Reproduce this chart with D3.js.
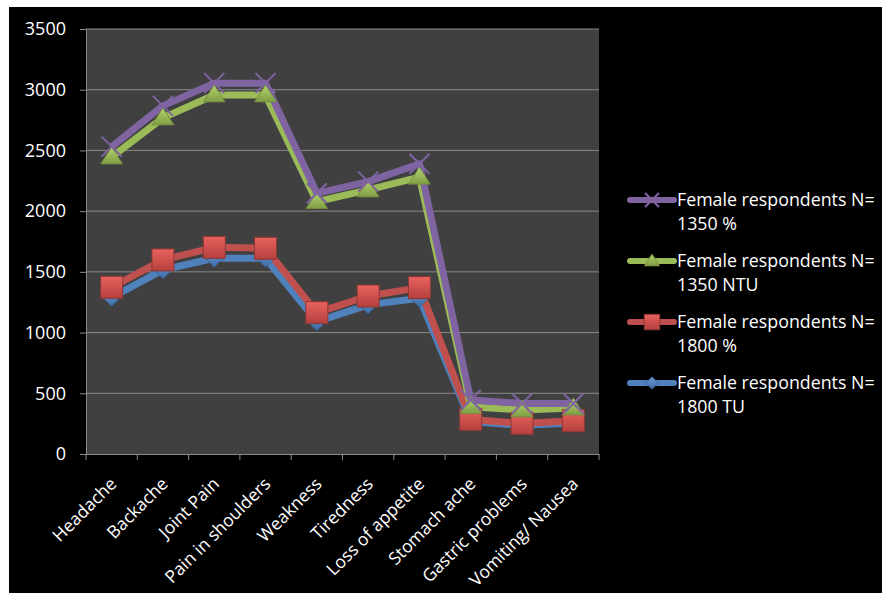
<!DOCTYPE html>
<html>
<head>
<meta charset="utf-8">
<script src="https://cdn.jsdelivr.net/npm/d3@7"></script>
<style>
  body { margin: 0; background: #fff; }
  text { font-family: "Open Sans", sans-serif; fill: #fff; }
</style>
</head>
<body>
<div id="vis"></div>
<script>
const categories = ["Headache", "Backache", "Joint Pain", "Pain in shoulders", "Weakness",
  "Tiredness", "Loss of appetite", "Stomach ache", "Gastric problems", "Vomiting/ Nausea"];

// raw series values (the chart stacks them)
const tu1800 = [1290, 1516, 1612, 1612, 1090, 1228, 1283, 268, 236, 256];
const pct1800 = [83, 82, 90, 82, 74, 73, 87, 17, 16, 18];
const ntu1350 = [1073, 1170, 1255, 1263, 914, 874, 910, 105, 110, 105];
const pct1350 = [85, 99, 97, 97, 69, 68, 110, 55, 54, 37];

const seriesNames = ["Female respondents N= 1800 TU", "Female respondents N= 1800 %",
  "Female respondents N= 1350 NTU", "Female respondents N= 1350 %"];
const yTicks = [0, 500, 1000, 1500, 2000, 2500, 3000, 3500];

const width = 887, height = 597;
const plot = { left: 86, right: 599, top: 29, bottom: 454 };

const svg = d3.select("#vis").append("svg")
  .attr("width", width).attr("height", height);

const defs = svg.append("defs");
function grad(id, c1, c2) {
  const g = defs.append("linearGradient").attr("id", id)
    .attr("x1", 0).attr("y1", 0).attr("x2", 0).attr("y2", 1);
  g.append("stop").attr("offset", "0").attr("stop-color", c1);
  g.append("stop").attr("offset", "1").attr("stop-color", c2);
}
grad("gRed", "#ea625e", "#b3403d");
grad("gGreen", "#b5d46e", "#7f9d43");
grad("gBlue", "#6a9ad4", "#3d6ba5");

svg.append("rect").attr("x", 9).attr("y", 7).attr("width", 873).attr("height", 586).attr("fill", "#000");
svg.append("rect").attr("x", plot.left).attr("y", plot.top)
  .attr("width", plot.right - plot.left).attr("height", plot.bottom - plot.top)
  .attr("fill", "#404040");

const x = d3.scaleBand().domain(categories).range([plot.left, plot.right]);
const y = d3.scaleLinear().domain([0, 3500]).range([plot.bottom, plot.top]);

// gridlines
svg.append("g").selectAll("line").data(yTicks.filter(d => d > 0)).join("line")
  .attr("x1", plot.left).attr("x2", plot.right)
  .attr("y1", d => y(d)).attr("y2", d => y(d))
  .attr("stroke", "#8a8a8a").attr("stroke-width", 1);

// y axis
const yAxis = svg.append("g").attr("transform", `translate(${plot.left},0)`)
  .call(d3.axisLeft(y).tickValues(yTicks).tickFormat(d3.format("d")).tickSize(6).tickPadding(14));
yAxis.select(".domain").attr("stroke", "#8a8a8a");
yAxis.selectAll(".tick line").attr("stroke", "#8a8a8a");
yAxis.selectAll("text").attr("font-size", 18).attr("fill", "#fff")
  .attr("font-family", "Open Sans, sans-serif");

// x axis
const xAxis = svg.append("g").attr("transform", `translate(0,${plot.bottom})`)
  .call(d3.axisBottom(x).tickSize(0).tickPadding(0));
xAxis.select(".domain").attr("stroke", "#8a8a8a");
xAxis.selectAll(".tick text").remove();
svg.append("g").selectAll("line").data(categories.concat([null])).join("line")
  .attr("x1", (d, i) => plot.left + i * x.bandwidth())
  .attr("x2", (d, i) => plot.left + i * x.bandwidth())
  .attr("y1", plot.bottom).attr("y2", plot.bottom + 6)
  .attr("stroke", "#8a8a8a");

svg.append("g").selectAll("text").data(categories).join("text")
  .attr("transform", d => `translate(${x(d) + x.bandwidth() / 2 + 6},${plot.bottom + 31}) rotate(-45)`)
  .attr("text-anchor", "end")
  .attr("font-size", 17.5)
  .text(d => d);

// stacked series
const table = categories.map((c, i) => ({
  cat: c, tu1800: tu1800[i], pct1800: pct1800[i], ntu1350: ntu1350[i], pct1350: pct1350[i]
}));
const keys = ["tu1800", "pct1800", "ntu1350", "pct1350"];
const stacked = d3.stack().keys(keys)(table);

const colors = { tu1800: "#4f81bd", pct1800: "#c0504d", ntu1350: "#9bbb59", pct1350: "#8064a2" };
const line = d3.line().x(d => x(d.data.cat) + x.bandwidth() / 2).y(d => y(d[1]));

svg.append("g").selectAll("path").data(stacked).join("path")
  .attr("d", line)
  .attr("fill", "none")
  .attr("stroke", d => colors[d.key])
  .attr("stroke-width", 7)
  .attr("stroke-linejoin", "round");

function marker(g, key, s) {
  if (key === "tu1800") {
    g.append("path").attr("d", `M0,${-9 * s}L${9 * s},0L0,${9 * s}L${-9 * s},0Z`)
      .attr("fill", "url(#gBlue)").attr("stroke", "#385d8a").attr("stroke-width", 0.8);
  } else if (key === "pct1800") {
    g.append("rect").attr("x", -11 * s).attr("y", -11 * s).attr("width", 22 * s).attr("height", 22 * s)
      .attr("fill", "url(#gRed)").attr("stroke", "#8c3836").attr("stroke-width", 1);
  } else if (key === "ntu1350") {
    g.append("path").attr("d", `M0,${-10 * s}L${11 * s},${7 * s}L${-11 * s},${7 * s}Z`)
      .attr("fill", "url(#gGreen)").attr("stroke", "#71893f").attr("stroke-width", 0.8);
  } else {
    g.append("path").attr("d", `M${-10 * s},${-10 * s}L${10 * s},${10 * s}M${10 * s},${-10 * s}L${-10 * s},${10 * s}`)
      .attr("stroke", "#8064a2").attr("stroke-width", 2);
  }
}

stacked.forEach(sr => {
  sr.forEach(d => {
    const g = svg.append("g")
      .attr("transform", `translate(${x(d.data.cat) + x.bandwidth() / 2},${y(d[1])})`);
    marker(g, sr.key, 1);
  });
});

// legend (reversed order, like the stacked chart)
const legendY = [200, 261, 322, 383];
const legendKeys = keys.slice().reverse();
legendKeys.forEach((k, i) => {
  const name = seriesNames[keys.indexOf(k)];
  const g = svg.append("g").attr("transform", `translate(0,${legendY[i]})`);
  g.append("line").attr("x1", 630).attr("x2", 674).attr("y1", 0).attr("y2", 0)
    .attr("stroke", colors[k]).attr("stroke-width", 6).attr("stroke-linecap", "round");
  const mg = g.append("g").attr("transform", "translate(652,0)");
  marker(mg, k, 0.7);
  const t = g.append("text").attr("x", 677).attr("y", 6).attr("font-size", 17.8);
  t.append("tspan").text(name.slice(0, name.indexOf("=") + 1));
  t.append("tspan").attr("x", 677).attr("dy", 24).text(name.slice(name.indexOf("=") + 2));
});
</script>
</body>
</html>
